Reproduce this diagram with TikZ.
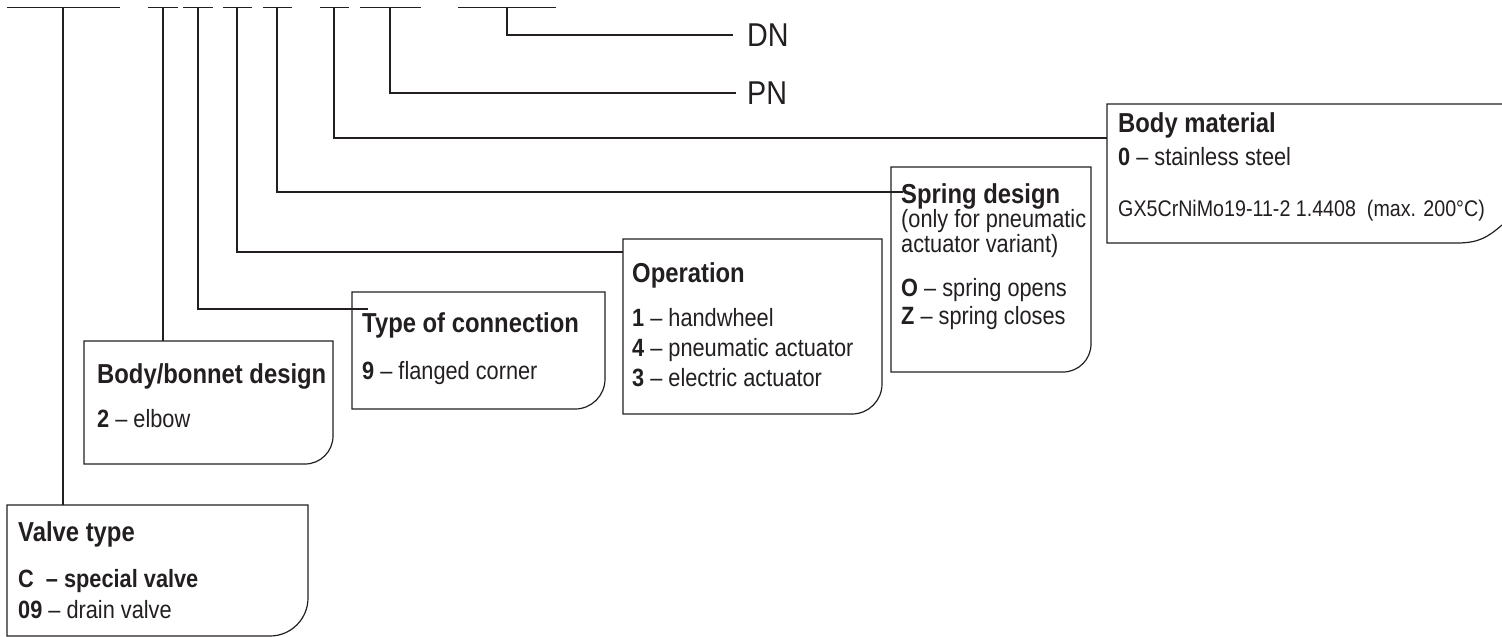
\documentclass[tikz,border=0pt]{standalone}
\usepackage{fontspec}
\setmainfont{Liberation Sans}[FakeStretch=0.87]
\definecolor{ink}{HTML}{231F20}
\newcommand\cardpath[2]{%
  \draw[boxline] (#1.north east) -- (#1.north west) -- (#1.south west)
    -- ([xshift=-#2pt]#1.south east)
    .. controls +({0.552*#2pt},0) and +(0,{-0.552*#2pt}) ..
    ([yshift=#2pt]#1.south east) -- cycle;}
\tikzset{
  bar/.style={line width=1.4pt, draw=ink},
  lead/.style={line width=1.1pt, draw=ink},
  boxline/.style={line width=1.2pt, draw=ink},
  card/.style={inner sep=0pt, outer sep=0pt, anchor=north west},
  ttl/.style={anchor=base west, inner sep=0pt, text=ink, font=\fontsize{27.4}{30}\selectfont\bfseries},
  txt/.style={anchor=base west, inner sep=0pt, text=ink, font=\fontsize{25}{28}\selectfont},
  smalltxt/.style={anchor=base west, inner sep=0pt, text=ink, font=\fontsize{22.6}{26}\selectfont},
  codetxt/.style={anchor=west, inner sep=0pt, text=ink, font=\fontsize{33}{36}\selectfont},
}
\begin{document}
\begin{tikzpicture}[x=1pt, y=-1pt]
\useasboundingbox (0,0) rectangle (1502,637);

% top code bars
\draw[bar] (7,7.5) -- (120,7.5);
\draw[bar] (148,7.5) -- (178,7.5);
\draw[bar] (183,7.5) -- (213,7.5);
\draw[bar] (223,7.5) -- (252,7.5);
\draw[bar] (263,7.5) -- (292,7.5);
\draw[bar] (320,7.5) -- (349,7.5);
\draw[bar] (360,7.5) -- (421,7.5);
\draw[bar] (458,7.5) -- (556,7.5);

\coordinate (t1) at (63,7.5);
\coordinate (t2) at (163,7.5);
\coordinate (t3) at (198,7.5);
\coordinate (t4) at (237,7.5);
\coordinate (t5) at (277,7.5);
\coordinate (t6) at (334,7.5);
\coordinate (t7) at (390,7.5);
\coordinate (t8) at (507,7.5);

% cards
\node[card, minimum width=301pt, minimum height=131pt] (vt) at (7,505) {};
\node[card, minimum width=249pt, minimum height=123pt] (bb) at (84,341) {};
\node[card, minimum width=253pt, minimum height=117pt] (tc) at (352,292) {};
\node[card, minimum width=259pt, minimum height=175pt] (op) at (623,239) {};
\node[card, minimum width=200pt, minimum height=205pt] (sd) at (891,167) {};
\node[card, minimum width=395pt, minimum height=139pt] (bm) at (1107,104) {};

\cardpath{vt}{38}
\cardpath{bb}{28}
\cardpath{tc}{30}
\cardpath{op}{30}
\cardpath{sd}{28}
\draw[boxline] (bm.north east) -- (bm.north west) -- (bm.south west)
  -- ([xshift=-45pt]bm.south east)
  .. controls +(22pt,0) and +(-14pt,-12pt) .. ([yshift=18pt]bm.south east);

% DN / PN
\node[codetxt] (dn) at (747,35) {DN};
\node[codetxt] (pn) at (747,93) {PN};

% connectors
\draw[lead] (t1) -- (t1 |- vt.north);
\draw[lead] (t2) -- (t2 |- bb.north);
\coordinate (tcend) at (368,309);
\draw[lead] (t3) |- (tcend);
\draw[lead] (t4) |- ([yshift=-13pt]op.north west);
\draw[lead] (t5) |- ([xshift=12pt,yshift=-25pt]sd.north west);
\draw[lead] (t6) |- ([yshift=-34pt]bm.north west);
\draw[lead] (t7) |- ([xshift=-11pt]pn.west);
\draw[lead] (t8) |- ([xshift=-14pt]dn.west);

% Valve type
\node[ttl] (vt-t) at (18,541) {Valve type};
\node[txt] (vt-1) at (18,587) {\bfseries C\ \ – special valve};
\node[txt] (vt-2) at (18,618) {\textbf{09} – drain valve};

% Body/bonnet design
\node[ttl] (bb-t) at (97,383) {Body/bonnet design};
\node[txt] (bb-1) at (97,427) {\textbf{2} – elbow};

% Type of connection
\node[ttl] (tc-t) at (362,332) {Type of connection};
\node[txt] (tc-1) at (362,379) {\textbf{9} – flanged corner};

% Operation
\node[ttl] (op-t) at (632,282) {Operation};
\node[txt] (op-1) at (632,326) {\textbf{1} – handwheel};
\node[txt] (op-2) at (632,356) {\textbf{4} – pneumatic actuator};
\node[txt] (op-3) at (632,386) {\textbf{3} – electric actuator};

% Spring design
\node[ttl] (sd-t) at (901,203) {Spring design};
\node[txt] (sd-1) at (901,227) {(only for pneumatic};
\node[txt] (sd-2) at (901,252) {actuator variant)};
\node[txt] (sd-3) at (901,296) {\textbf{O} – spring opens};
\node[txt] (sd-4) at (901,324) {\textbf{Z} – spring closes};

% Body material
\node[ttl] (bm-t) at (1118,132) {Body material};
\node[txt] (bm-1) at (1118,165) {\textbf{0} – stainless steel};
\node[smalltxt] (bm-2) at (1118,216) {GX5CrNiMo19-11-2 1.4408\ \ (max. 200°C)};
\end{tikzpicture}
\end{document}
